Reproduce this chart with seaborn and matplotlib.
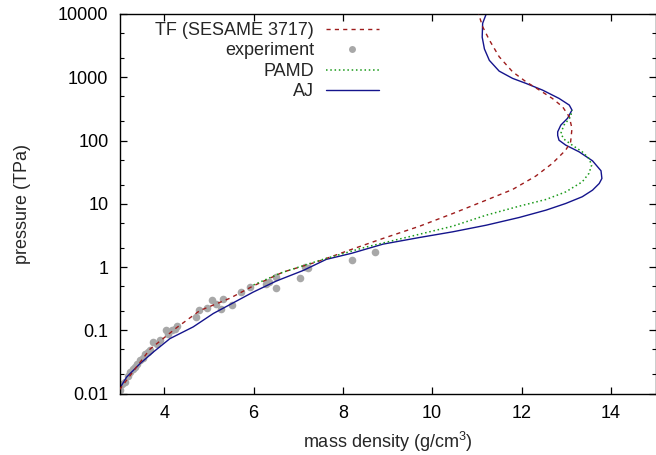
import matplotlib
matplotlib.use("Agg")
import matplotlib.pyplot as plt
from matplotlib.ticker import LogLocator, FixedLocator, FuncFormatter, NullFormatter, NullLocator
from matplotlib.lines import Line2D
import seaborn as sns

# ---------------- data ----------------
exp_rho = [3.01, 3.05, 3.12, 3.18, 3.23, 3.30, 3.35, 3.40, 3.46, 3.52, 3.57, 3.63, 3.68,
           3.74, 3.83, 3.91, 4.04, 4.09, 4.17, 4.24, 4.29, 4.72, 4.78, 4.95, 5.06, 5.16,
           5.28, 5.32, 5.51, 5.73, 5.93, 6.29, 6.35, 6.50, 6.50, 7.05, 7.15, 7.22, 8.21, 8.71]
exp_p = [0.0112, 0.0143, 0.0152, 0.019, 0.0219, 0.024, 0.0263, 0.029, 0.0335, 0.037, 0.0427,
         0.045, 0.0483, 0.0653, 0.0616, 0.0713, 0.100, 0.0887, 0.100, 0.106, 0.116, 0.163,
         0.207, 0.228, 0.298, 0.264, 0.220, 0.316, 0.249, 0.404, 0.484, 0.548, 0.58, 0.698,
         0.474, 0.66, 0.99, 0.97, 1.27, 1.73]

tf_rho = [3.00, 3.30, 3.68, 4.28, 4.80, 5.47, 5.99, 6.66, 7.41, 8.15, 8.90, 9.72, 10.46,
          11.21, 11.80, 12.32, 12.69, 12.99, 13.10, 13.13, 13.07, 12.92, 12.69, 12.40, 12.10,
          11.80, 11.50, 11.28, 11.13, 11.04]
tf_p = [0.0115, 0.022, 0.050, 0.110, 0.205, 0.32, 0.50, 0.83, 1.20, 1.85, 2.83, 4.42, 7.0,
        11.4, 16.8, 27.4, 43.4, 70.5, 95, 155, 237, 341, 463, 627, 849, 1220, 2110, 3880,
        6300, 10000]

pamd_rho = [6.00, 6.60, 7.20, 7.60, 8.50, 9.72, 10.46, 11.21, 11.95, 12.55, 12.99, 13.36,
            13.51, 13.57, 13.51, 13.36, 13.14, 12.95, 12.88, 12.95, 13.10, 13.13]
pamd_p = [0.52, 0.80, 1.10, 1.35, 2.05, 3.3, 4.42, 6.6, 9.16, 11.7, 15.4, 22.2, 30.2, 40.8,
          52, 66.2, 84, 105, 129, 175, 237, 303]

aj_rho = [3.00, 3.16, 3.46, 3.76, 4.13, 4.65, 5.10, 5.54, 5.99, 6.51, 7.11, 7.63, 8.20, 8.90,
          9.72, 10.46, 11.21, 11.95, 12.55, 12.99, 13.36, 13.59, 13.74, 13.80, 13.78, 13.59,
          13.29, 12.99, 12.84, 12.81, 12.81, 12.88, 13.03, 13.13, 13.07, 12.84, 12.47, 12.10,
          11.80, 11.50, 11.28, 11.17, 11.12, 11.13, 11.21]
aj_p = [0.0119, 0.0182, 0.0297, 0.0454, 0.0738, 0.113, 0.184, 0.27, 0.40, 0.60, 0.88, 1.32,
        1.65, 2.30, 2.93, 3.6, 4.58, 6.07, 7.93, 10.1, 12.9, 16.4, 20.9, 25.1, 33.2, 47.7,
        66.2, 84.5, 101, 120, 137, 175, 224, 303, 363, 463, 627, 800, 960, 1250, 1850, 2800,
        4300, 7130, 10000]

y_ticks = [0.01, 0.1, 1, 10, 100, 1000, 10000]
y_labels = ["0.01", "0.1", "1", "10", "100", "1000", "10000"]
x_ticks = [4, 6, 8, 10, 12, 14]

labels = ["TF (SESAME 3717)", "experiment", "PAMD", "AJ"]
c_tf, c_exp, c_pamd, c_aj = "#9e1c1c", "#a8a8a8", "#1a9a1a", "#14148c"

# ---------------- plot ----------------
sns.set_style("ticks")
plt.rcParams["font.family"] = ["Liberation Sans", "DejaVu Sans"]
plt.rcParams["font.size"] = 13

fig = plt.figure(figsize=(6.56, 4.55), dpi=100)
ax = fig.add_axes([119.5 / 656, 1 - 393.5 / 455, (655.5 - 119.5) / 656, (393.5 - 14) / 455])

sns.scatterplot(x=exp_rho, y=exp_p, ax=ax, color=c_exp, s=30, linewidth=0, zorder=1)

sns.lineplot(x=tf_rho, y=tf_p, sort=False, estimator=None, ax=ax, color=c_tf, lw=1.0,
             linestyle=(0, (3, 3)), zorder=3)
sns.lineplot(x=pamd_rho, y=pamd_p, sort=False, estimator=None, ax=ax, color=c_pamd, lw=1.1,
             linestyle=(0, (1, 1.8)), zorder=3)
sns.lineplot(x=aj_rho, y=aj_p, sort=False, estimator=None, ax=ax, color=c_aj, lw=1.0, zorder=2)

ax.set_yscale("log")
ax.set_xlim(3, 15)
ax.set_ylim(0.01, 10000)

ax.yaxis.set_major_locator(FixedLocator(y_ticks))
ax.yaxis.set_major_formatter(FuncFormatter(lambda v, p: y_labels[y_ticks.index(v)] if v in y_ticks else ""))
ax.yaxis.set_minor_locator(LogLocator(base=10, subs=(2.0, 5.0)))
ax.yaxis.set_minor_formatter(NullFormatter())
ax.xaxis.set_major_locator(FixedLocator(x_ticks))
ax.xaxis.set_minor_locator(NullLocator())

ax.tick_params(which="both", direction="in", top=True, right=True, colors="black",
               labelsize=13)
ax.tick_params(which="major", length=5, width=0.9)
ax.tick_params(which="minor", length=2.8, width=0.8)
ax.tick_params(axis="y", pad=8)
ax.tick_params(axis="x", pad=8)
for s in ax.spines.values():
    s.set_visible(True)
    s.set_linewidth(1.0)
    s.set_color("black")

ax.set_xlabel(r"mass density (g/cm$\mathregular{^3}$)", fontsize=13, labelpad=6)
ax.set_ylabel("pressure (TPa)", fontsize=13, labelpad=19)

handles = [
    Line2D([], [], color=c_tf, lw=1.0, linestyle=(0, (3, 3))),
    Line2D([], [], color=c_exp, marker="o", markersize=5, linestyle="none", markeredgewidth=0),
    Line2D([], [], color=c_pamd, lw=1.1, linestyle=(0, (1, 1.8))),
    Line2D([], [], color=c_aj, lw=1.0),
]
ax.legend(handles, labels, loc="upper right", bbox_to_anchor=(379 / 656, 1 - 22 / 455),
          bbox_transform=fig.transFigure, frameon=False, markerfirst=False,
          borderpad=0, borderaxespad=0, handlelength=2.95, handletextpad=0.65,
          labelspacing=0.19, fontsize=13)

fig.savefig("out.png", dpi=100)
